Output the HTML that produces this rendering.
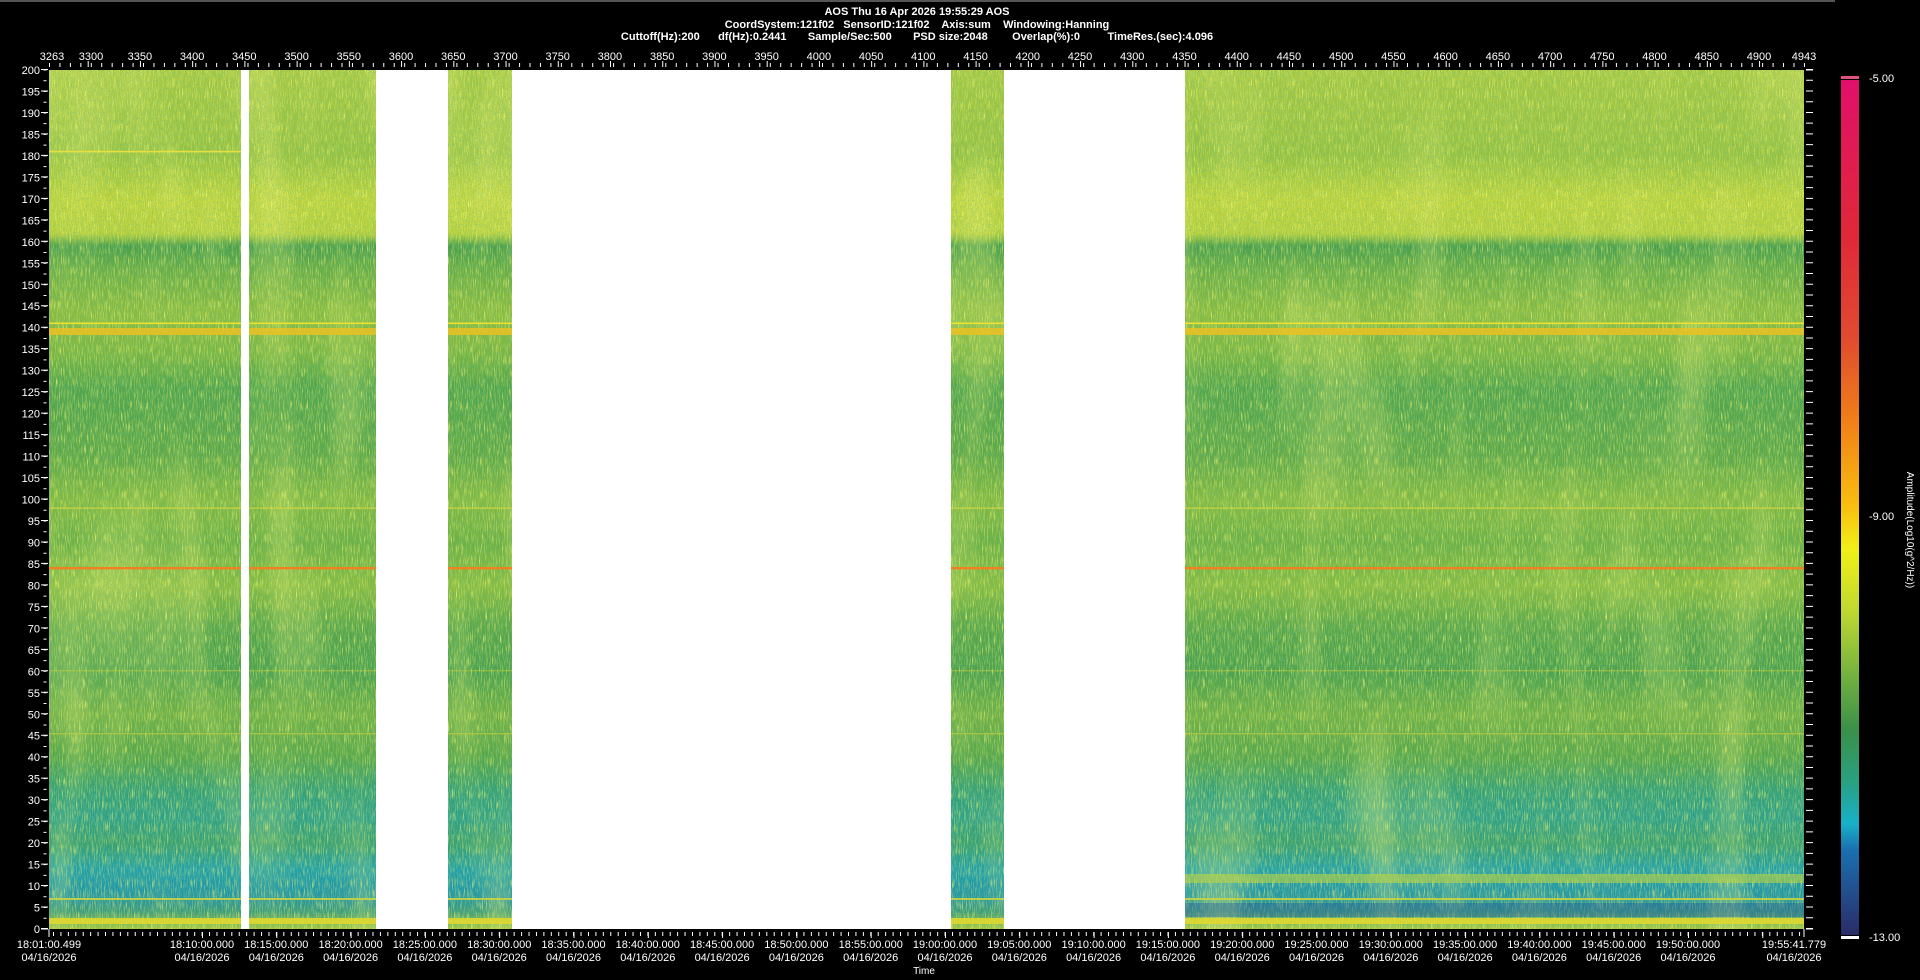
<!DOCTYPE html>
<html><head><meta charset="utf-8"><style>
html,body{margin:0;padding:0;background:#000;width:1920px;height:980px;overflow:hidden}
svg{display:block}
text{font-family:"Liberation Sans",sans-serif;fill:#fff}
</style></head><body>
<svg width="1920" height="980" viewBox="0 0 1920 980">
<defs>
<linearGradient id="spec" x1="0" y1="0" x2="0" y2="1">
<stop offset="0" stop-color="#a8c840"/>
<stop offset="0.1" stop-color="#98c23e"/>
<stop offset="0.15" stop-color="#c0d43a"/>
<stop offset="0.19" stop-color="#b8d03a"/>
<stop offset="0.205" stop-color="#4a9e4a"/>
<stop offset="0.23" stop-color="#68ac44"/>
<stop offset="0.28" stop-color="#8cbc3e"/>
<stop offset="0.33" stop-color="#7cb640"/>
<stop offset="0.37" stop-color="#52a44a"/>
<stop offset="0.45" stop-color="#60a846"/>
<stop offset="0.5" stop-color="#86ba40"/>
<stop offset="0.55" stop-color="#6eb042"/>
<stop offset="0.6" stop-color="#8abc3e"/>
<stop offset="0.65" stop-color="#5aa648"/>
<stop offset="0.7" stop-color="#4ca04a"/>
<stop offset="0.75" stop-color="#72b042"/>
<stop offset="0.8" stop-color="#58a648"/>
<stop offset="0.84" stop-color="#34a078"/>
<stop offset="0.87" stop-color="#2ea088"/>
<stop offset="0.9" stop-color="#3aa070"/>
<stop offset="0.93" stop-color="#22a0a8"/>
<stop offset="0.95" stop-color="#2098a8"/>
<stop offset="0.965" stop-color="#2896a0"/>
<stop offset="0.98" stop-color="#3e9c78"/>
<stop offset="1" stop-color="#a8c83c"/>
</linearGradient>
<linearGradient id="cbar" x1="0" y1="0" x2="0" y2="1">
<stop offset="0" stop-color="#e0106a"/>
<stop offset="0.18" stop-color="#e02838"/>
<stop offset="0.3" stop-color="#e04a30"/>
<stop offset="0.4" stop-color="#f08018"/>
<stop offset="0.5" stop-color="#f8c010"/>
<stop offset="0.55" stop-color="#f0f018"/>
<stop offset="0.62" stop-color="#c0d830"/>
<stop offset="0.7" stop-color="#70b040"/>
<stop offset="0.76" stop-color="#3a9048"/>
<stop offset="0.82" stop-color="#2aa080"/>
<stop offset="0.87" stop-color="#18b0c8"/>
<stop offset="0.9" stop-color="#1a70b0"/>
<stop offset="1" stop-color="#2a2c68"/>
</linearGradient>
<filter id="nz" x="0" y="0" width="100%" height="100%">
<feTurbulence type="fractalNoise" baseFrequency="1.6 0.09" numOctaves="2" seed="3"/>
<feColorMatrix type="matrix" values="0 0 0 0 0.95  0 0 0 0 0.95  0 0 0 0 0.15  3 0 0 0 -1.5"/>
</filter>
<filter id="nz2" x="0" y="0" width="100%" height="100%">
<feTurbulence type="fractalNoise" baseFrequency="1.2 0.5" numOctaves="2" seed="9"/>
<feColorMatrix type="matrix" values="0 0 0 0 0.1  0 0 0 0 0.5  0 0 0 0 0.35  3 0 0 0 -1.5"/>
</filter>
<filter id="nz3" x="0" y="0" width="100%" height="100%">
<feTurbulence type="fractalNoise" baseFrequency="0.02 0.004" numOctaves="2" seed="5"/>
<feColorMatrix type="matrix" values="0 0 0 0 0.9  0 0 0 0 0.9  0 0 0 0 0.2  2 0 0 0 -1.0"/>
</filter>
</defs>
<rect x="0" y="0" width="1835" height="2" fill="#555"/>
<text x="917" y="15" font-size="11" font-weight="bold" text-anchor="middle">AOS  Thu 16 Apr 2026 19:55:29  AOS</text>
<text x="917" y="28" font-size="11" font-weight="bold" text-anchor="middle" xml:space="preserve">CoordSystem:121f02   SensorID:121f02    Axis:sum    Windowing:Hanning</text>
<text x="917" y="40" font-size="11" font-weight="bold" text-anchor="middle" xml:space="preserve">Cuttoff(Hz):200      df(Hz):0.2441       Sample/Sec:500       PSD size:2048        Overlap(%):0         TimeRes.(sec):4.096</text>
<rect x="49" y="70" width="1755" height="859" fill="#fff"/>
<g>
<rect x="49" y="70" width="1755" height="859" fill="url(#spec)"/>
<rect x="49" y="70" width="1755" height="859" filter="url(#nz3)" opacity="0.5"/>
<rect x="49" y="70" width="1755" height="859" filter="url(#nz)" opacity="0.8"/>
<rect x="49" y="70" width="1755" height="859" filter="url(#nz2)" opacity="0.7"/>
<rect x="49" y="150.8" width="192" height="1.6" fill="#e8e040"/>
<rect x="49" y="322.5" width="1755" height="1.6" fill="#f0e030"/>
<rect x="49" y="328" width="1755" height="7" fill="#f0c020" opacity="0.8"/>
<rect x="49" y="507.5" width="1755" height="1.4" fill="#d8d840" opacity="0.7"/>
<rect x="49" y="567" width="1755" height="2.4" fill="#f08020"/>
<rect x="49" y="733" width="1755" height="1.4" fill="#c8d040" opacity="0.6"/>
<rect x="49" y="670" width="1755" height="1.4" fill="#c8d040" opacity="0.5"/>
<rect x="49" y="898" width="1755" height="2" fill="#d8d838" opacity="0.8"/>
<rect x="49" y="918" width="1755" height="6" fill="#e0d830" opacity="0.9"/>
<rect x="1185" y="874" width="619" height="9" fill="#c8d838" opacity="0.55"/>
<rect x="1185" y="903" width="619" height="14" fill="#1a58a8" opacity="0.4"/>
</g>
<rect x="241" y="70" width="8" height="859" fill="#fff"/>
<rect x="376" y="70" width="72" height="859" fill="#fff"/>
<rect x="512" y="70" width="439" height="859" fill="#fff"/>
<rect x="1004" y="70" width="181" height="859" fill="#fff"/>
<line x1="45" y1="929.5" x2="45" y2="69" stroke="#fff" stroke-width="3" stroke-dasharray="1 9.7375"/>
<line x1="41" y1="929" x2="48" y2="929" stroke="#fff"/>
<line x1="44.5" y1="929" x2="44.5" y2="69" stroke="#fff" stroke-width="7" stroke-dasharray="1 20.475"/>
<g font-size="11" text-anchor="end">
<text x="40" y="74">200</text><text x="40" y="95.5">195</text><text x="40" y="117">190</text><text x="40" y="138.4">185</text><text x="40" y="159.9">180</text><text x="40" y="181.4">175</text><text x="40" y="202.9">170</text><text x="40" y="224.3">165</text><text x="40" y="245.8">160</text><text x="40" y="267.3">155</text><text x="40" y="288.8">150</text><text x="40" y="310.2">145</text><text x="40" y="331.7">140</text><text x="40" y="353.2">135</text><text x="40" y="374.7">130</text><text x="40" y="396.1">125</text><text x="40" y="417.6">120</text><text x="40" y="439.1">115</text><text x="40" y="460.5">110</text><text x="40" y="482">105</text><text x="40" y="503.5">100</text><text x="40" y="525">95</text><text x="40" y="546.4">90</text><text x="40" y="567.9">85</text><text x="40" y="589.4">80</text><text x="40" y="610.9">75</text><text x="40" y="632.4">70</text><text x="40" y="653.8">65</text><text x="40" y="675.3">60</text><text x="40" y="696.8">55</text><text x="40" y="718.3">50</text><text x="40" y="739.7">45</text><text x="40" y="761.2">40</text><text x="40" y="782.7">35</text><text x="40" y="804.2">30</text><text x="40" y="825.6">25</text><text x="40" y="847.1">20</text><text x="40" y="868.6">15</text><text x="40" y="890.1">10</text><text x="40" y="911.5">5</text><text x="40" y="933">0</text>
</g>
<line x1="1806" y1="929" x2="1813" y2="929" stroke="#fff"/>
<line x1="1806" x2="1813" y1="70" y2="70" stroke="#fff"/>
<line x1="1809.5" y1="929" x2="1809.5" y2="69" stroke="#fff" stroke-width="7" stroke-dasharray="1 9.7375"/>
<line x1="49" y1="65" x2="1805" y2="65" stroke="#fff" stroke-width="4" stroke-dasharray="1 9.446"/>
<line x1="87.7" y1="64" x2="1805" y2="64" stroke="#fff" stroke-width="6" stroke-dasharray="1 51.23"/>
<g font-size="11" text-anchor="middle">
<text x="52" y="60">3263</text><text x="91" y="60">3300</text><text x="139.9" y="60">3350</text><text x="192.1" y="60">3400</text><text x="244.3" y="60">3450</text><text x="296.6" y="60">3500</text><text x="348.8" y="60">3550</text><text x="401" y="60">3600</text><text x="453.3" y="60">3650</text><text x="505.5" y="60">3700</text><text x="557.7" y="60">3750</text><text x="609.9" y="60">3800</text><text x="662.2" y="60">3850</text><text x="714.4" y="60">3900</text><text x="766.6" y="60">3950</text><text x="818.9" y="60">4000</text><text x="871.1" y="60">4050</text><text x="923.3" y="60">4100</text><text x="975.6" y="60">4150</text><text x="1027.8" y="60">4200</text><text x="1080" y="60">4250</text><text x="1132.2" y="60">4300</text><text x="1184.5" y="60">4350</text><text x="1236.7" y="60">4400</text><text x="1288.9" y="60">4450</text><text x="1341.2" y="60">4500</text><text x="1393.4" y="60">4550</text><text x="1445.6" y="60">4600</text><text x="1497.9" y="60">4650</text><text x="1550.1" y="60">4700</text><text x="1602.3" y="60">4750</text><text x="1654.5" y="60">4800</text><text x="1706.8" y="60">4850</text><text x="1759" y="60">4900</text><text x="1804" y="60">4943</text>
</g>
<line x1="53" y1="934" x2="1805" y2="934" stroke="#fff" stroke-width="4" stroke-dasharray="1 6.43"/>
<line x1="202" y1="935" x2="1805" y2="935" stroke="#fff" stroke-width="6" stroke-dasharray="1 73.3"/>
<line x1="49" y1="929" x2="49" y2="937" stroke="#fff"/>
<line x1="1804" y1="929" x2="1804" y2="937" stroke="#fff"/>
<g font-size="11" text-anchor="middle">
<text x="49" y="948">18:01:00.499</text><text x="49" y="961">04/16/2026</text>
<text x="202" y="948">18:10:00.000</text><text x="202" y="961">04/16/2026</text>
<text x="276.3" y="948">18:15:00.000</text><text x="276.3" y="961">04/16/2026</text>
<text x="350.6" y="948">18:20:00.000</text><text x="350.6" y="961">04/16/2026</text>
<text x="424.9" y="948">18:25:00.000</text><text x="424.9" y="961">04/16/2026</text>
<text x="499.2" y="948">18:30:00.000</text><text x="499.2" y="961">04/16/2026</text>
<text x="573.5" y="948">18:35:00.000</text><text x="573.5" y="961">04/16/2026</text>
<text x="647.8" y="948">18:40:00.000</text><text x="647.8" y="961">04/16/2026</text>
<text x="722.1" y="948">18:45:00.000</text><text x="722.1" y="961">04/16/2026</text>
<text x="796.4" y="948">18:50:00.000</text><text x="796.4" y="961">04/16/2026</text>
<text x="870.7" y="948">18:55:00.000</text><text x="870.7" y="961">04/16/2026</text>
<text x="945" y="948">19:00:00.000</text><text x="945" y="961">04/16/2026</text>
<text x="1019.3" y="948">19:05:00.000</text><text x="1019.3" y="961">04/16/2026</text>
<text x="1093.6" y="948">19:10:00.000</text><text x="1093.6" y="961">04/16/2026</text>
<text x="1167.9" y="948">19:15:00.000</text><text x="1167.9" y="961">04/16/2026</text>
<text x="1242.2" y="948">19:20:00.000</text><text x="1242.2" y="961">04/16/2026</text>
<text x="1316.5" y="948">19:25:00.000</text><text x="1316.5" y="961">04/16/2026</text>
<text x="1390.8" y="948">19:30:00.000</text><text x="1390.8" y="961">04/16/2026</text>
<text x="1465.1" y="948">19:35:00.000</text><text x="1465.1" y="961">04/16/2026</text>
<text x="1539.4" y="948">19:40:00.000</text><text x="1539.4" y="961">04/16/2026</text>
<text x="1613.7" y="948">19:45:00.000</text><text x="1613.7" y="961">04/16/2026</text>
<text x="1688" y="948">19:50:00.000</text><text x="1688" y="961">04/16/2026</text>
<text x="1794" y="948">19:55:41.779</text><text x="1794" y="961">04/16/2026</text>
<text x="924" y="974" font-size="10">Time</text>
</g>
<rect x="1841" y="76" width="18" height="3" fill="#e05080"/>
<rect x="1841" y="80" width="18" height="855" fill="url(#cbar)"/>
<rect x="1841" y="936" width="18" height="3" fill="#fff"/>
<g font-size="11">
<text x="1869" y="82">-5.00</text>
<text x="1869" y="520">-9.00</text>
<text x="1869" y="941">-13.00</text>
</g>
<text transform="translate(1907,530) rotate(90)" font-size="10" text-anchor="middle">Amplitude(Log10(g^2/Hz))</text>
</svg>
</body></html>
